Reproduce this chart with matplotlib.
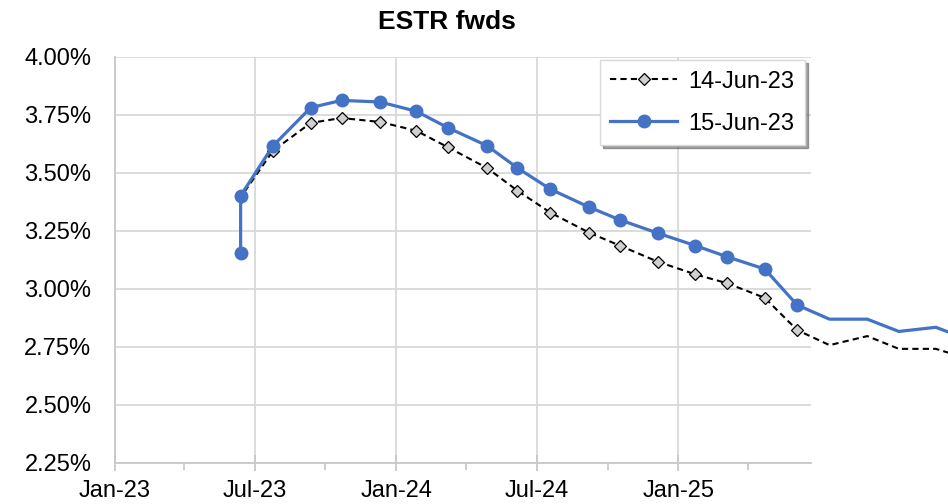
import pandas as pd
import matplotlib
matplotlib.use("Agg")
import matplotlib.pyplot as plt
import matplotlib.dates as mdates
from matplotlib.ticker import FuncFormatter, FixedLocator

plt.rcParams['font.family'] = ['Liberation Sans', 'DejaVu Sans']

# даты встреч / форвардные точки
dates = pd.to_datetime([
    "2023-06-13", "2023-06-13", "2023-07-25", "2023-09-12", "2023-10-22",
    "2023-12-11", "2024-01-27", "2024-03-08", "2024-04-28", "2024-06-06",
    "2024-07-19", "2024-09-07", "2024-10-17", "2024-12-05", "2025-01-23",
    "2025-03-05", "2025-04-23", "2025-06-04", "2025-07-16", "2025-09-03",
    "2025-10-14", "2025-12-01", "2026-01-20",
])
fwd_14jun = [3.155, 3.395, 3.596, 3.716, 3.737, 3.720, 3.682, 3.611, 3.521,
             3.424, 3.329, 3.243, 3.187, 3.118, 3.063, 3.025, 2.962, 2.823,
             2.758, 2.797, 2.742, 2.742, 2.691]
fwd_15jun = [3.157, 3.402, 3.617, 3.782, 3.813, 3.806, 3.766, 3.695, 3.617,
             3.522, 3.430, 3.353, 3.298, 3.241, 3.187, 3.139, 3.086, 2.931,
             2.870, 2.870, 2.817, 2.835, 2.772]
labels = ["14-Jun-23", "15-Jun-23"]
n_marked = 18  # маркеры только до Jun-25

fig = plt.figure(figsize=(9.48, 5.04), dpi=100)
ax = fig.add_axes([115 / 948, 41 / 504, (811 - 115) / 948, (463 - 57) / 504])

ax.plot(dates, fwd_14jun, color='black', linestyle=(0, (3, 2)), linewidth=1.5,
        marker='D', markersize=6.5, markerfacecolor='#d0d0d0',
        markeredgecolor='black', markeredgewidth=0.9,
        markevery=list(range(n_marked)), clip_on=False, label=labels[0], zorder=3)
ax.plot(dates, fwd_15jun, color='#4472c4', linewidth=2.3,
        marker='o', markersize=9, markerfacecolor='#4472c4',
        markeredgecolor='#4472c4',
        markevery=list(range(n_marked)), clip_on=False, label=labels[1], zorder=4)

ax.set_ylim(2.25, 4.00)
ax.set_yticks([2.25 + 0.25 * i for i in range(8)])
ax.yaxis.set_major_formatter(FuncFormatter(lambda v, p: f"{v:.2f}%"))

ax.set_xlim(pd.Timestamp("2023-01-01"), pd.Timestamp("2025-06-22"))
major = pd.to_datetime(["2023-01-01", "2023-07-01", "2024-01-01", "2024-07-01", "2025-01-01"])
minor = pd.to_datetime(["2023-04-01", "2023-10-01", "2024-04-01", "2024-10-01", "2025-04-01"])
ax.xaxis.set_major_locator(FixedLocator(mdates.date2num(major)))
ax.xaxis.set_minor_locator(FixedLocator(mdates.date2num(minor)))
ax.xaxis.set_major_formatter(mdates.DateFormatter("%b-%y"))

ax.grid(True, which='major', color='#d9d9d9', linewidth=1.3, zorder=0)
ax.set_axisbelow(True)
for s in ['top', 'right']:
    ax.spines[s].set_visible(False)
for s in ['left', 'bottom']:
    ax.spines[s].set_color('#c8c8c8')
    ax.spines[s].set_linewidth(1.3)

ax.tick_params(axis='y', length=0, pad=17, labelsize=17)
ax.tick_params(axis='x', which='major', direction='inout', length=11, width=1.3,
               color='#c8c8c8', labelsize=17, pad=7)
ax.tick_params(axis='x', which='minor', direction='out', length=5, width=1.3,
               color='#c8c8c8')

fig.text(447 / 948, 1 - 22 / 504, "ESTR fwds", fontsize=19, fontweight='bold',
         ha='center', va='center')

leg = ax.legend(loc='upper right', bbox_to_anchor=(0.9914, 0.9926), borderaxespad=0,
                fontsize=17, frameon=True, fancybox=False, shadow=True,
                edgecolor='#d9d9d9', borderpad=0.45, handlelength=2.8,
                handletextpad=0.5, labelspacing=0.85)
leg.get_frame().set_linewidth(1.0)

fig.savefig("out.png", dpi=100)
